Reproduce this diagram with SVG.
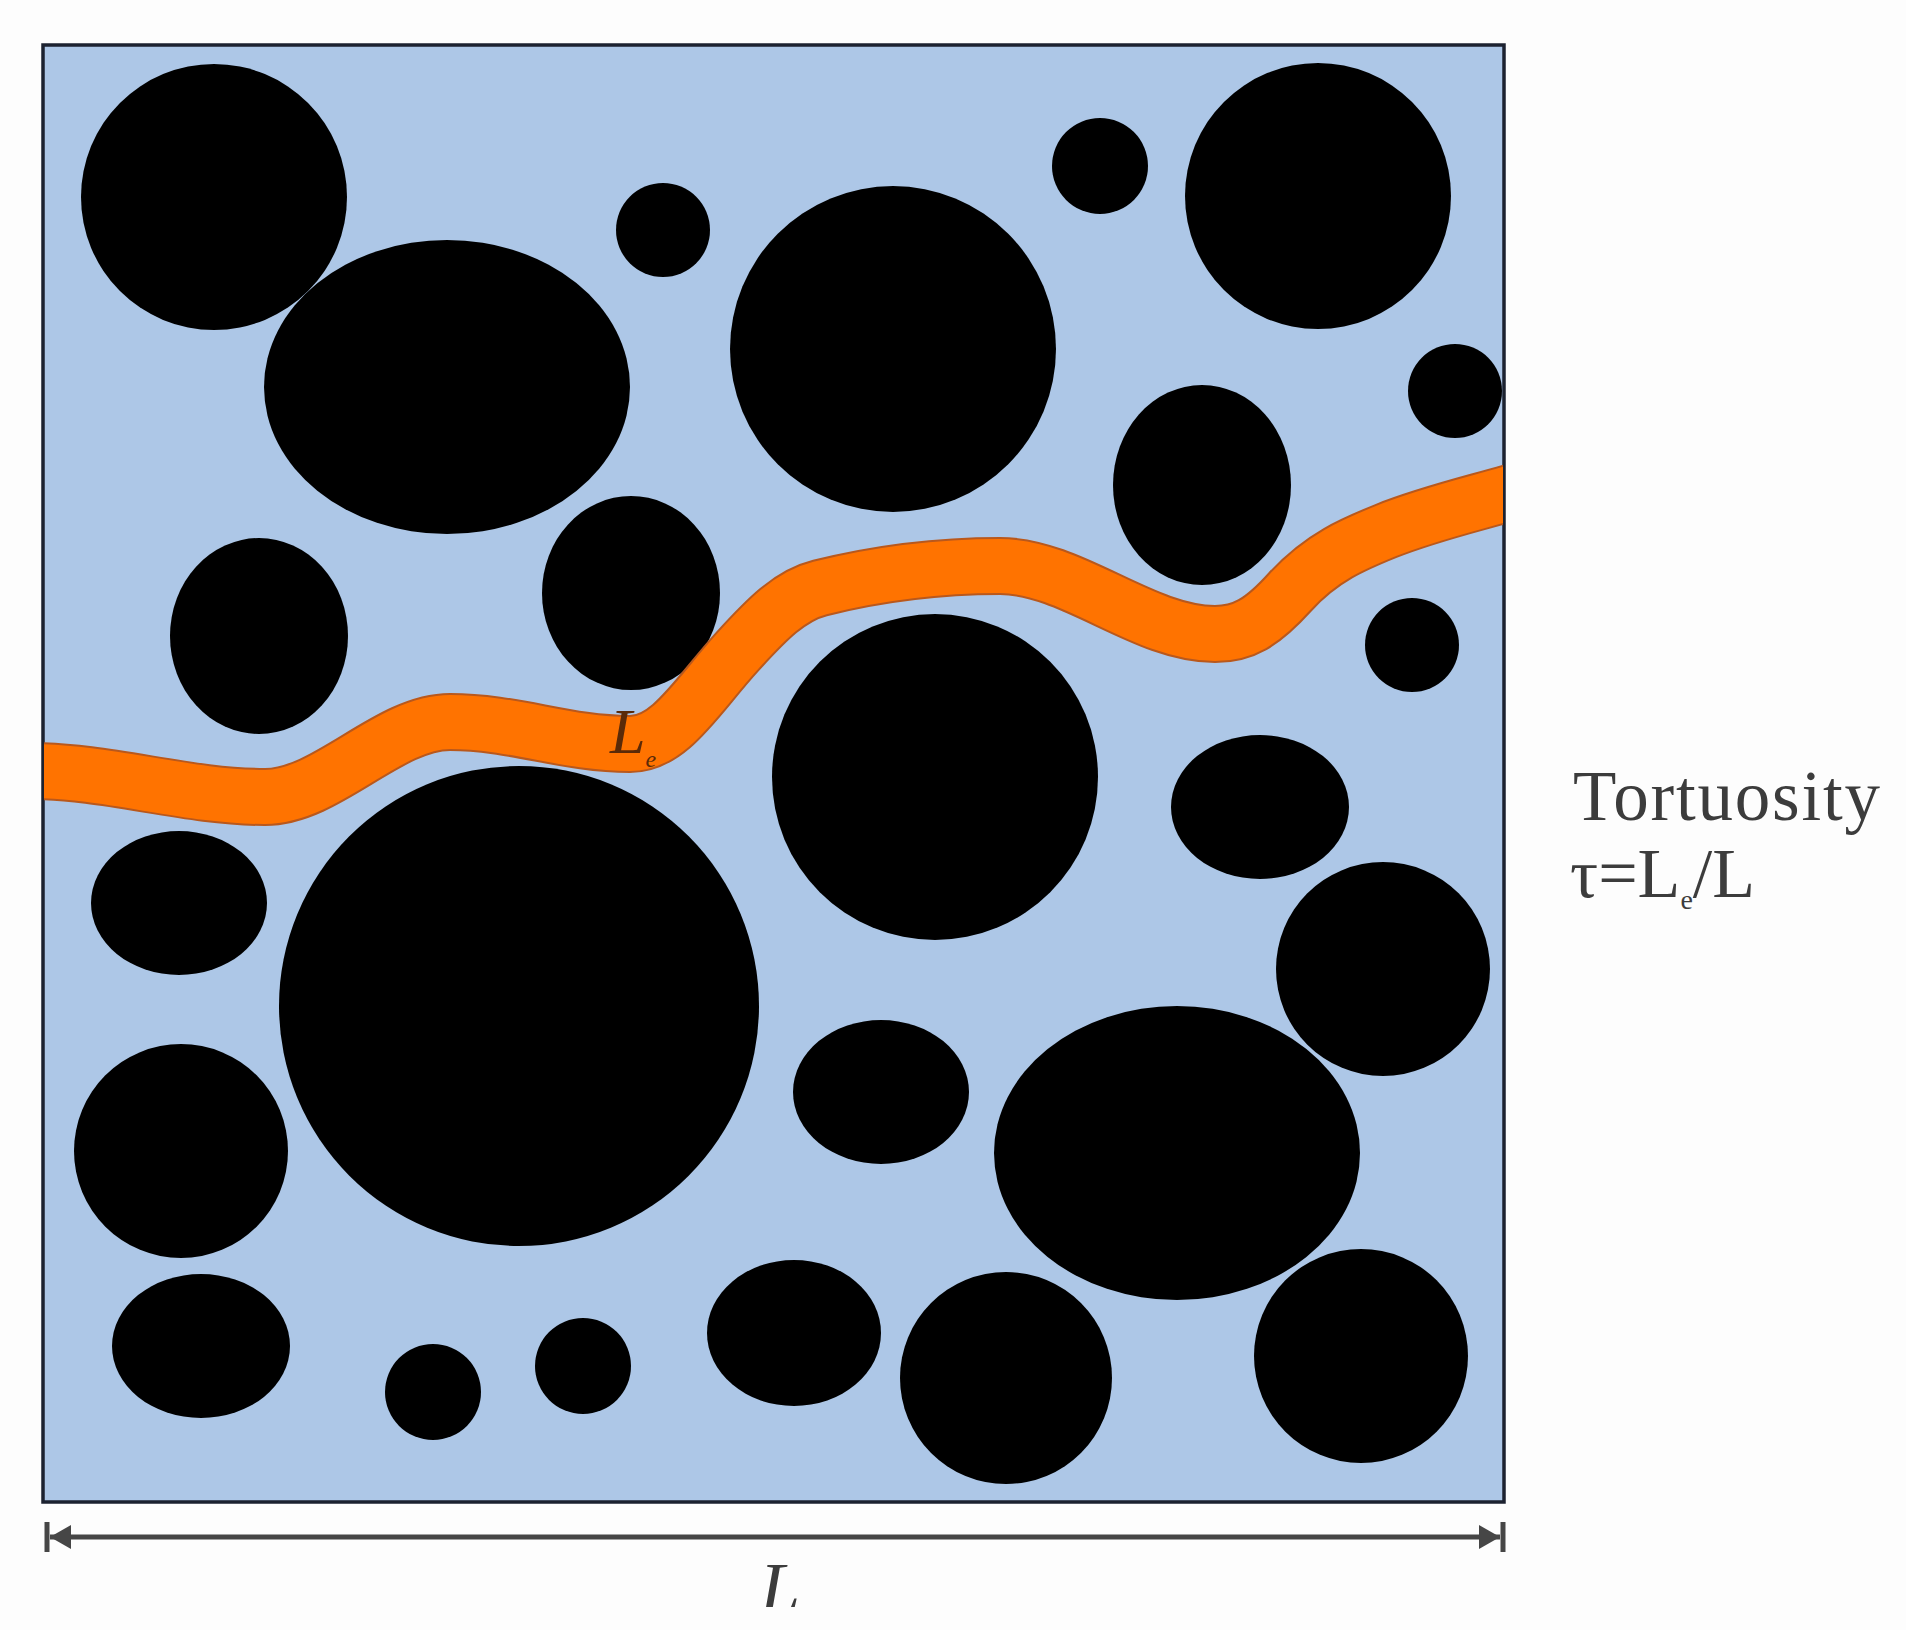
<svg xmlns="http://www.w3.org/2000/svg" width="1906" height="1630" viewBox="0 0 1906 1630">
<style>
.grain{fill:#000}
.lbl{font-family:"Liberation Serif","Times New Roman",serif;fill:#3c3c3c}
.dim{stroke:#464646;stroke-width:5;fill:none}
.band{fill:none;stroke-linecap:butt}
</style>
<defs>
<clipPath id="box"><rect x="44" y="46" width="1459" height="1455"/></clipPath>
<clipPath id="bottomclip"><rect x="0" y="0" width="1906" height="1607"/></clipPath>
<marker id="arr" markerWidth="22" markerHeight="26" refX="21" refY="13" orient="auto-start-reverse" markerUnits="userSpaceOnUse">
<path d="M0,1 L21,13 L0,25 Z" fill="#464646"/>
</marker>
<path id="flow" d="M30,771 C108,771 187,797 265,797 C327,797 388,722 450,722 C515,722 565,744 630,744 C670,744 697,696 737,652 C767,619 790,595.5 820,588 C880,573 940,566 1000,566 C1072,566 1143,634 1215,634 C1243,634 1262,623 1290,592 C1322,557 1354,544 1386,531 C1431,513 1475,503.5 1520,490"/>
</defs>
<rect width="1906" height="1630" fill="#fdfdfd"/>
<g id="medium">
<rect x="43" y="45" width="1461" height="1457" fill="#adc7e7" stroke="#1c2230" stroke-width="3.5"/>
</g>
<g id="grains" clip-path="url(#box)">
<circle class="grain" cx="214" cy="197" r="133"/>
<ellipse class="grain" cx="447" cy="387" rx="183" ry="147"/>
<circle class="grain" cx="663" cy="230" r="47"/>
<circle class="grain" cx="893" cy="349" r="163"/>
<circle class="grain" cx="1100" cy="166" r="48"/>
<circle class="grain" cx="1318" cy="196" r="133"/>
<circle class="grain" cx="1455" cy="391" r="47"/>
<ellipse class="grain" cx="1202" cy="485" rx="89" ry="100"/>
<ellipse class="grain" cx="259" cy="636" rx="89" ry="98"/>
<ellipse class="grain" cx="631" cy="593" rx="89" ry="97"/>
<circle class="grain" cx="1412" cy="645" r="47"/>
<circle class="grain" cx="935" cy="777" r="163"/>
<ellipse class="grain" cx="1260" cy="807" rx="89" ry="72"/>
<ellipse class="grain" cx="179" cy="903" rx="88" ry="72"/>
<circle class="grain" cx="519" cy="1006" r="240"/>
<circle class="grain" cx="1383" cy="969" r="107"/>
<circle class="grain" cx="181" cy="1151" r="107"/>
<ellipse class="grain" cx="881" cy="1092" rx="88" ry="72"/>
<ellipse class="grain" cx="1177" cy="1153" rx="183" ry="147"/>
<ellipse class="grain" cx="201" cy="1346" rx="89" ry="72"/>
<circle class="grain" cx="433" cy="1392" r="48"/>
<circle class="grain" cx="583" cy="1366" r="48"/>
<ellipse class="grain" cx="794" cy="1333" rx="87" ry="73"/>
<circle class="grain" cx="1006" cy="1378" r="106"/>
<circle class="grain" cx="1361" cy="1356" r="107"/>
</g>
<g id="path-Le" clip-path="url(#box)">
<use href="#flow" class="band" stroke="#b9581c" stroke-width="58"/>
<use href="#flow" class="band" stroke="#ff7300" stroke-width="54"/>
<text x="610" y="753" font-family="Liberation Serif, Times New Roman, serif" font-style="italic" font-size="64" fill="#5a2a08">L<tspan dy="14" font-size="24">e</tspan></text>
</g>
<g id="connectors">
<line class="dim" x1="50" y1="1537" x2="1500" y2="1537" marker-start="url(#arr)" marker-end="url(#arr)"/>
<line x1="47" y1="1522" x2="47" y2="1552" stroke="#464646" stroke-width="5"/>
<line x1="1503" y1="1522" x2="1503" y2="1552" stroke="#464646" stroke-width="5"/>
</g>
<g id="labels">
<text class="lbl" x="1573" y="820" font-size="71" textLength="307" lengthAdjust="spacing">Tortuosity</text>
<text class="lbl" x="1570" y="897" font-size="70">τ=L<tspan dy="12" font-size="28">e</tspan><tspan dy="-12">/L</tspan></text>
<text class="lbl" x="760" y="1612" font-size="72" font-style="italic" clip-path="url(#bottomclip)">L</text>
</g>
</svg>
